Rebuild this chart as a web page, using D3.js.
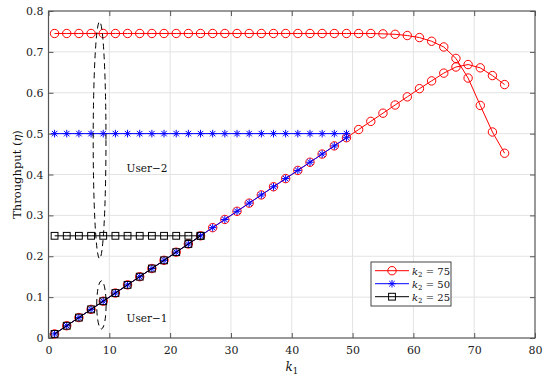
<!DOCTYPE html>
<html>
<head>
<meta charset="utf-8">
<script src="https://cdn.jsdelivr.net/npm/d3@7"></script>
<style>
  body { margin: 0; background: #fff; }
  text { font-family: "DejaVu Serif", "Liberation Serif", serif; }
</style>
</head>
<body>
<script>
// k1 values (odd) for each curve
const k1_75 = [1,3,5,7,9,11,13,15,17,19,21,23,25,27,29,31,33,35,37,39,41,43,45,47,49,51,53,55,57,59,61,63,65,67,69,71,73,75]
const k1_50 = [1,3,5,7,9,11,13,15,17,19,21,23,25,27,29,31,33,35,37,39,41,43,45,47,49]
const k1_25 = [1,3,5,7,9,11,13,15,17,19,21,23,25]

// User-1 throughput
const user1_75 = [0.01,0.03,0.05,0.07,0.09,0.11,0.13,0.15,0.17,0.19,0.21,0.23,0.25,0.27,0.29,0.31,0.33,0.35,0.37,0.39,0.41,0.43,0.45,0.47,0.49,0.51,0.53,0.55,0.57,0.59,0.61,0.629,0.648,0.663,0.669,0.661,0.642,0.620]
const user1_50 = [0.01,0.03,0.05,0.07,0.09,0.11,0.13,0.15,0.17,0.19,0.21,0.23,0.25,0.27,0.29,0.31,0.33,0.35,0.37,0.39,0.41,0.43,0.45,0.47,0.49]
const user1_25 = [0.01,0.03,0.05,0.07,0.09,0.11,0.13,0.15,0.17,0.19,0.21,0.23,0.25]

// User-2 throughput
const user2_75 = [0.745,0.745,0.745,0.745,0.745,0.745,0.745,0.745,0.745,0.745,0.745,0.745,0.745,0.745,0.745,0.745,0.745,0.745,0.745,0.745,0.745,0.745,0.745,0.745,0.745,0.745,0.745,0.744,0.743,0.740,0.735,0.726,0.712,0.684,0.636,0.569,0.504,0.452]
const user2_50 = [0.5,0.5,0.5,0.5,0.5,0.5,0.5,0.5,0.5,0.5,0.5,0.5,0.5,0.5,0.5,0.5,0.5,0.5,0.5,0.5,0.5,0.5,0.5,0.5,0.5]
const user2_25 = [0.25,0.25,0.25,0.25,0.25,0.25,0.25,0.25,0.25,0.25,0.25,0.25,0.25]

const xTicks = [0,10,20,30,40,50,60,70,80]
const yTicks = [0,0.1,0.2,0.3,0.4,0.5,0.6,0.7,0.8]
const legendLabels = ['75','50','25']

const WIDTH = 550
const HEIGHT = 378
const L = 48.5, R = 535, T = 11, B = 338

const svg = d3.select('body').append('svg').attr('width', WIDTH).attr('height', HEIGHT)

const x = d3.scaleLinear().domain([0, 80]).range([L, R])
const y = d3.scaleLinear().domain([0, 0.8]).range([B, T])

// grid
const grid = svg.append('g')
grid.selectAll('.gx').data(xTicks.slice(1, -1)).enter().append('line')
  .attr('x1', d => x(d)).attr('x2', d => x(d)).attr('y1', T).attr('y2', B)
  .attr('stroke', '#e3e3e3').attr('stroke-width', 1)
grid.selectAll('.gy').data(yTicks.slice(1, -1)).enter().append('line')
  .attr('y1', d => y(d)).attr('y2', d => y(d)).attr('x1', L).attr('x2', R)
  .attr('stroke', '#e3e3e3').attr('stroke-width', 1)

// axes, ticks pointing in
const axColor = '#555'
const styleAxis = g => {
  g.select('.domain').remove()
  g.selectAll('line').attr('stroke', axColor)
  g.selectAll('text').attr('fill', '#222').style('font-size', '11px')
    .style('font-family', '"DejaVu Serif", serif')
}
svg.append('g').attr('transform', `translate(0,${B})`)
  .call(d3.axisBottom(x).tickValues(xTicks).tickSizeInner(-5).tickSizeOuter(0).tickPadding(8).tickFormat(d3.format('d')))
  .call(styleAxis)
svg.append('g').attr('transform', `translate(0,${T})`)
  .call(d3.axisTop(x).tickValues(xTicks).tickSizeInner(-5).tickSizeOuter(0).tickFormat(''))
  .call(styleAxis)
svg.append('g').attr('transform', `translate(${L},0)`)
  .call(d3.axisLeft(y).tickValues(yTicks).tickSizeInner(-5).tickSizeOuter(0).tickPadding(5).tickFormat(d => d === 0 ? '0' : d3.format('.1f')(d)))
  .call(styleAxis)
svg.append('g').attr('transform', `translate(${R},0)`)
  .call(d3.axisRight(y).tickValues(yTicks).tickSizeInner(-5).tickSizeOuter(0).tickFormat(''))
  .call(styleAxis)

svg.append('rect').attr('x', L).attr('y', T).attr('width', R - L).attr('height', B - T)
  .attr('fill', 'none').attr('stroke', axColor).attr('stroke-width', 1.2)

// markers
const starPath = r => {
  const a = r * 0.72
  return `M0,${-r}L0,${r}M${-r},0L${r},0M${-a},${-a}L${a},${a}M${-a},${a}L${a},${-a}`
}
function drawMarker(g, type, color) {
  if (type === 'circle') {
    g.append('circle').attr('r', 4.2).attr('fill', 'none').attr('stroke', color).attr('stroke-width', 1)
  } else if (type === 'star') {
    g.append('path').attr('d', starPath(3.8)).attr('fill', 'none').attr('stroke', color).attr('stroke-width', 1)
  } else {
    g.append('rect').attr('x', -3.4).attr('y', -3.4).attr('width', 6.8).attr('height', 6.8)
      .attr('fill', 'none').attr('stroke', color).attr('stroke-width', 1)
  }
}

const series = [
  { k: k1_75, u1: user1_75, u2: user2_75, color: '#ff0000', marker: 'circle' },
  { k: k1_50, u1: user1_50, u2: user2_50, color: '#0000ff', marker: 'star' },
  { k: k1_25, u1: user1_25, u2: user2_25, color: '#000000', marker: 'square' }
]

const line = d3.line().x(d => x(d[0])).y(d => y(d[1]))

series.forEach(s => {
  [s.u1, s.u2].forEach(vals => {
    const pts = s.k.map((k, i) => [k, vals[i]])
    svg.append('path').datum(pts).attr('d', line)
      .attr('fill', 'none').attr('stroke', s.color).attr('stroke-width', 1)
    svg.append('g').selectAll('g').data(pts).enter().append('g')
      .attr('transform', d => `translate(${x(d[0])},${y(d[1])})`)
      .each(function () { drawMarker(d3.select(this), s.marker, s.color) })
  })
})

// dashed ellipses
svg.append('ellipse')
  .attr('cx', x(8.4)).attr('cy', y(0.484))
  .attr('rx', x(8.4 + 1.05) - x(8.4)).attr('ry', y(0.484) - y(0.484 + 0.29))
  .attr('fill', 'none').attr('stroke', '#000').attr('stroke-width', 1).attr('stroke-dasharray', '6,4')
svg.append('ellipse')
  .attr('cx', x(8.7)).attr('cy', y(0.081))
  .attr('rx', x(8.7 + 0.77) - x(8.7)).attr('ry', y(0.081) - y(0.081 + 0.059))
  .attr('fill', 'none').attr('stroke', '#000').attr('stroke-width', 1).attr('stroke-dasharray', '6,4')

// user labels
svg.append('text').attr('x', x(16.2)).attr('y', y(0.405)).attr('text-anchor', 'middle')
  .style('font-size', '10.5px').attr('fill', '#111').text('User\u22122')
svg.append('text').attr('x', x(16.2)).attr('y', y(0.038)).attr('text-anchor', 'middle')
  .style('font-size', '10.5px').attr('fill', '#111').text('User\u22121')

// axis labels
const xl = svg.append('text').attr('x', (L + R) / 2).attr('y', 371).attr('text-anchor', 'middle')
  .style('font-size', '12px').attr('fill', '#111')
xl.append('tspan').style('font-style', 'italic').text('k')
xl.append('tspan').attr('dy', 3).style('font-size', '8.5px').text('1')

const yl = svg.append('text').attr('transform', `translate(21,${(T + B) / 2}) rotate(-90)`)
  .attr('text-anchor', 'middle').style('font-size', '11.5px').attr('fill', '#111')
yl.append('tspan').text('Throughput (')
yl.append('tspan').style('font-style', 'italic').text('\u03b7')
yl.append('tspan').text(')')

// legend
const lx = 371, ly = 262
const lg = svg.append('g')
lg.append('rect').attr('x', lx).attr('y', ly).attr('width', 80).attr('height', 44)
  .attr('fill', '#fff').attr('stroke', '#444').attr('stroke-width', 1)
series.forEach((s, i) => {
  const yy = ly + 8.7 + i * 13
  lg.append('line').attr('x1', lx + 4).attr('x2', lx + 38).attr('y1', yy).attr('y2', yy)
    .attr('stroke', s.color).attr('stroke-width', 1)
  const mg = lg.append('g').attr('transform', `translate(${lx + 21},${yy})`)
  drawMarker(mg, s.marker, s.color)
  const t = lg.append('text').attr('x', lx + 41).attr('y', yy + 3.8).style('font-size', '10px').attr('fill', '#111')
  t.append('tspan').style('font-style', 'italic').text('k')
  t.append('tspan').attr('dy', 2.5).style('font-size', '7px').text('2')
  t.append('tspan').attr('dy', -2.5).text(' = ' + legendLabels[i])
})
</script>
</body>
</html>
